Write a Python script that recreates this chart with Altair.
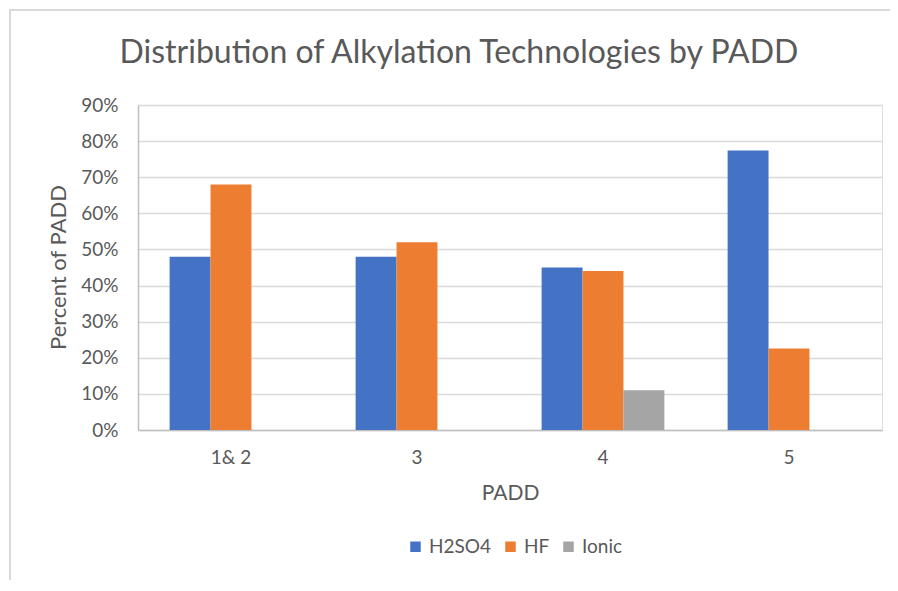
import altair as alt
import pandas as pd

categories = ["1& 2", "3", "4", "5"]
series = ["H2SO4", "HF", "Ionic"]
h2so4 = [0.48, 0.48, 0.45, 0.774]
hf = [0.68, 0.52, 0.44, 0.226]
ionic = [0.0, 0.0, 0.11, 0.0]
colors = ["#4472C4", "#ED7D31", "#A5A5A5"]
title_text = "Distribution of Alkylation Technologies by PADD"

rows = []
for i, c in enumerate(categories):
    for s, vals in zip(series, [h2so4, hf, ionic]):
        rows.append({"PADD": c, "Tech": s, "Value": vals[i]})
df = pd.DataFrame(rows)

FONT = "Lato"
TXT = "#595959"

bars = alt.Chart(df).mark_bar().encode(
    x=alt.X("PADD:N", sort=categories,
            scale=alt.Scale(paddingInner=0.34, paddingOuter=0.17),
            axis=alt.Axis(title="PADD", labelAngle=0, labelFontSize=19, labelColor=TXT,
                          labelFont=FONT, labelPadding=18, ticks=False,
                          domainColor="#BFBFBF", domainWidth=1.5,
                          titleFont=FONT, titleFontSize=21, titleColor=TXT,
                          titleFontWeight="normal", titlePadding=15)),
    xOffset=alt.XOffset("Tech:N", sort=series, scale=alt.Scale(domain=series, paddingInner=0, paddingOuter=0)),
    y=alt.Y("Value:Q",
            scale=alt.Scale(domain=[0, 0.9], nice=False),
            axis=alt.Axis(format=".0%", values=[i / 10 for i in range(10)], title="Percent of PADD",
                          labelFontSize=19, labelColor=TXT, labelFont=FONT, labelPadding=20,
                          ticks=False, domainColor="#BFBFBF", domainWidth=1.5,
                          gridColor="#D9D9D9", gridWidth=1.5,
                          titleFont=FONT, titleFontSize=22, titleColor=TXT,
                          titleFontWeight="normal", titleX=-80, titleY=162, titleAngle=270,
                          titleAlign="center", titleBaseline="middle")),
    color=alt.Color("Tech:N", sort=series, scale=alt.Scale(domain=series, range=colors),
                    legend=alt.Legend(title=None, orient="none", direction="horizontal",
                                      legendX=268, legendY=432, symbolType="square",
                                      symbolSize=110, symbolStrokeWidth=0,
                                      labelFont=FONT, labelFontSize=19, labelColor=TXT,
                                      columnPadding=9, labelOffset=4)),
)

one = pd.DataFrame({"t": [title_text]})
title = alt.Chart(one).mark_text(font=FONT, fontSize=32, color=TXT, align="center",
                                 baseline="middle").encode(
    text="t:N", x=alt.value(321), y=alt.value(-52))

border = alt.Chart(one).mark_rule(color="#D9D9D9", strokeWidth=2).encode(
    x=alt.value(-128), y=alt.value(-95), y2=alt.value(500))
border2 = alt.Chart(one).mark_rule(color="#D9D9D9", strokeWidth=2).encode(
    x=alt.value(-129), x2=alt.value(800), y=alt.value(-95))

chart = alt.layer(bars, title, border, border2).properties(
    width=744, height=325,
    padding={"left": 130, "top": 97, "right": 8, "bottom": 150},
    autosize=alt.AutoSizeParams(type="none"),
).configure_view(stroke=None).configure(background="white")

chart.save("out.html", embed_options={"renderer": "svg", "actions": False})
